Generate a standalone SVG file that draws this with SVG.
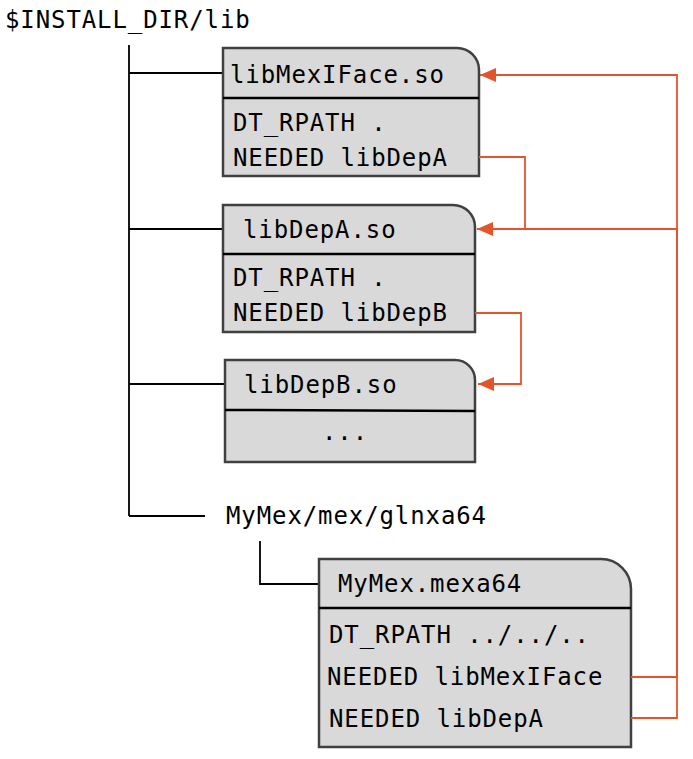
<svg xmlns="http://www.w3.org/2000/svg" width="693" height="759" viewBox="0 0 693 759">
<style>
text{font-family:"DejaVu Sans Mono","Liberation Mono",monospace;font-size:24px;letter-spacing:0.9px;fill:#000}
.box{fill:#d9d9d9;stroke:#404040;stroke-width:2.5}
.div{stroke:#000;stroke-width:2.5}
.tree{fill:none;stroke:#000;stroke-width:1.8}
.dep{fill:none;stroke:#e2552a;stroke-width:1.8}
</style>
<defs>
<marker id="ah" viewBox="0 0 16 14" refX="16" refY="7" markerWidth="16" markerHeight="14" markerUnits="userSpaceOnUse" orient="auto">
<path d="M0,0 L16,7 L0,14 Z" fill="#e2552a"/>
</marker>
</defs>
<rect width="693" height="759" fill="#fff"/>
<text x="5" y="28">$INSTALL_DIR/lib</text>
<g id="tree">
<path class="tree" d="M129,45 V516 M129,73 H223 M129,229 H223 M129,384 H225 M129,516 H205 M260,541 V584 H319"/>
</g>
<g id="libMexIFace">
<path class="box" d="M223,48 H457 A22,22 0 0 1 479,70 V176 H223 Z"/>
<line class="div" x1="223" y1="98" x2="479" y2="98"/>
<text x="230" y="83">libMexIFace.so</text>
<text x="233" y="131">DT_RPATH .</text>
<text x="233" y="166">NEEDED libDepA</text>
</g>
<g id="libDepA">
<path class="box" d="M223,205 H453 A22,22 0 0 1 475,227 V332 H223 Z"/>
<line class="div" x1="223" y1="254" x2="475" y2="254"/>
<text x="243" y="238">libDepA.so</text>
<text x="233" y="286">DT_RPATH .</text>
<text x="233" y="321">NEEDED libDepB</text>
</g>
<g id="libDepB">
<path class="box" d="M225,360 H455 A20,20 0 0 1 475,380 V462 H225 Z"/>
<line class="div" x1="225" y1="410" x2="475" y2="411"/>
<text x="244" y="393">libDepB.so</text>
<text x="322" y="440">...</text>
</g>
<text x="226" y="524">MyMex/mex/glnxa64</text>
<g id="mymex">
<path class="box" d="M319,559 H601 A30,30 0 0 1 631,589 V747 H319 Z"/>
<line class="div" x1="319" y1="608" x2="631" y2="608"/>
<text x="338" y="592">MyMex.mexa64</text>
<text x="329" y="643">DT_RPATH ../../..</text>
<text x="327" y="685">NEEDED libMexIFace</text>
<text x="329" y="727">NEEDED libDepA</text>
</g>
<g id="connectors">
<path class="dep" d="M479,157 H525 V229 H477" marker-end="url(#ah)"/>
<path class="dep" d="M475,313 H521 V384 H478" marker-end="url(#ah)"/>
<path class="dep" d="M631,677 H677 V75 H480" marker-end="url(#ah)"/>
<path class="dep" d="M631,718 H677 V229 H525"/>
</g>
</svg>
